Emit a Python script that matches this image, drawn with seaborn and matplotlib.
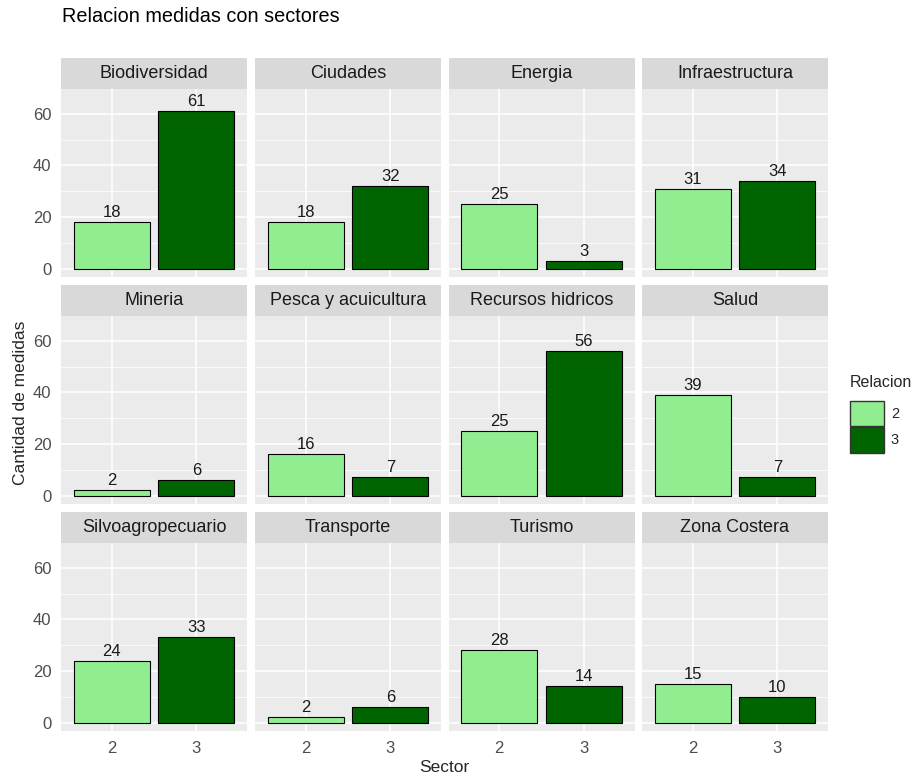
import pandas as pd
import numpy as np
import matplotlib
matplotlib.use('Agg')
import matplotlib.pyplot as plt
import seaborn as sns
from matplotlib.patches import Patch

sectores = ['Biodiversidad', 'Ciudades', 'Energia', 'Infraestructura',
            'Mineria', 'Pesca y acuicultura', 'Recursos hidricos', 'Salud',
            'Silvoagropecuario', 'Transporte', 'Turismo', 'Zona Costera']
relacion_2 = [18, 18, 25, 31, 2, 16, 25, 39, 24, 2, 28, 15]
relacion_3 = [61, 32, 3, 34, 6, 7, 56, 7, 33, 6, 14, 10]
niveles = ['2', '3']
colores = {'2': '#90EE90', '3': '#006400'}

rows = []
for s, a, b in zip(sectores, relacion_2, relacion_3):
    rows.append({'facet': s, 'Sector': '2', 'n': a})
    rows.append({'facet': s, 'Sector': '3', 'n': b})
df = pd.DataFrame(rows)

sns.set_style('white')
plt.rcParams['font.family'] = ['Liberation Sans', 'DejaVu Sans']

W, H = 917, 779
fig = plt.figure(figsize=(W / 100, H / 100), dpi=100)

lefts = [61, 255, 448.5, 642]
pw = 186
strip_tops = [58.3, 285.3, 512.3]
sh = 30.5
ph = 188

for i, s in enumerate(sectores):
    r, c = divmod(i, 4)
    x0 = lefts[c]
    ytop = strip_tops[r] + sh
    ax = fig.add_axes([x0 / W, 1 - (ytop + ph) / H, pw / W, ph / H])
    sub = df[df['facet'] == s]
    sns.barplot(data=sub, x='Sector', y='n', hue='Sector', order=niveles,
                hue_order=niveles, palette=colores, width=0.9, saturation=1,
                edgecolor='black', linewidth=0.8, legend=False, ax=ax,
                zorder=3)
    for cont in ax.containers:
        ax.bar_label(cont, padding=1.5, fontsize=12, color='#1a1a1a')
    ax.set_facecolor('#EBEBEB')
    ax.set_xlim(-0.6, 1.6)
    ax.set_ylim(-3.2, 69.7)
    ax.set_yticks([0, 20, 40, 60])
    ax.set_yticks([10, 30, 50], minor=True)
    ax.grid(True, which='major', color='white', linewidth=1.1, zorder=0)
    ax.grid(True, which='minor', axis='y', color='white', linewidth=0.55, zorder=0)
    ax.set_axisbelow(True)
    for sp in ax.spines.values():
        sp.set_visible(False)
    ax.set_xlabel('')
    ax.set_ylabel('')
    ax.tick_params(axis='both', which='major', length=3.5, width=0.8,
                   color='#333333', labelcolor='#4D4D4D', labelsize=12)
    ax.tick_params(axis='y', which='minor', length=0)
    if c != 0:
        ax.tick_params(axis='y', which='major', length=0, labelleft=False)
    if r != 2:
        ax.tick_params(axis='x', length=0, labelbottom=False)
    # strip
    sax = fig.add_axes([x0 / W, 1 - ytop / H, pw / W, sh / H])
    sax.set_facecolor('#D9D9D9')
    sax.set_xticks([])
    sax.set_yticks([])
    for sp in sax.spines.values():
        sp.set_visible(False)
    sax.text(0.5, 0.5, s, ha='center', va='center', fontsize=13,
             color='#1a1a1a', transform=sax.transAxes)

fig.text(62 / W, 1 - 17 / H, 'Relacion medidas con sectores', fontsize=14.3,
         ha='left', va='center', color='black')
fig.text(444 / W, 1 - 768 / H, 'Sector', fontsize=12.5, ha='center', va='center')
fig.text(21 / W, 1 - 403 / H, 'Cantidad de medidas', fontsize=12.5,
         ha='center', va='center', rotation=90)

handles = [Patch(facecolor=colores[k], edgecolor='#333333', label=k) for k in niveles]
leg = fig.legend(handles=handles, title='Relacion', loc='upper left',
                 bbox_to_anchor=(850 / W, 1 - 375 / H), frameon=False,
                 borderpad=0, borderaxespad=0,
                 fontsize=10.5, title_fontsize=11.5, handlelength=2.3,
                 handleheight=2.3, labelspacing=0.05, handletextpad=0.5,
                 alignment='left')
leg._legend_box.sep = 8

fig.savefig('out.png', dpi=100)
